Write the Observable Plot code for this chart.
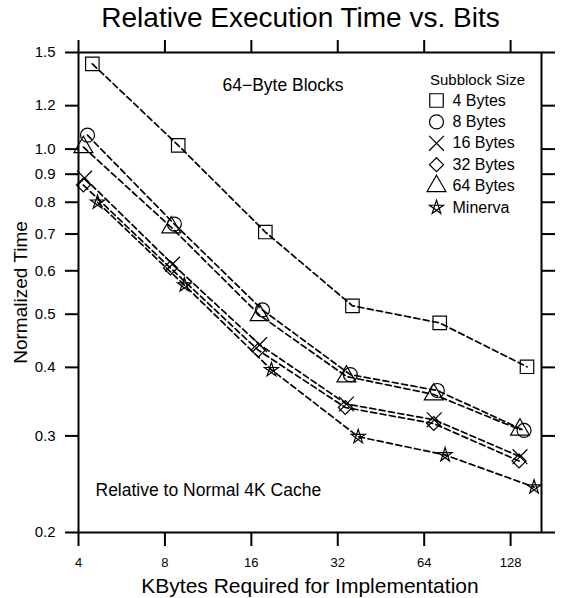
<!DOCTYPE html>
<html>
<head>
<meta charset="utf-8">
<script src="https://cdn.jsdelivr.net/npm/d3@7"></script>
<script src="https://cdn.jsdelivr.net/npm/@observablehq/plot@0.6"></script>
<style>
  body { margin: 0; background: #fff; font-family: "Liberation Sans", Arial, sans-serif; overflow: hidden; }
  #title { width: 571px; height: 40px; box-sizing: border-box; padding-left: 30px; text-align: center;
           font-size: 28px; line-height: 36px; color: #000; white-space: nowrap; }
</style>
</head>
<body>
<div id="title">Relative Execution Time vs. Bits</div>
<div id="chart"></div>
<script>
// Tick values for both log axes
const xTicks = [4, 8, 16, 32, 64, 128];
const yTicks = [0.2, 0.3, 0.4, 0.5, 0.6, 0.7, 0.8, 0.9, 1.0, 1.2, 1.5];

// Series names (subblock size)
const seriesNames = ["4 Bytes", "8 Bytes", "16 Bytes", "32 Bytes", "64 Bytes", "Minerva"];

// Implementation size in KBytes, per series
const kb4   = [4.47, 8.9, 17.9, 36.0, 72.5, 146];
const kb8   = [4.3, 8.63, 17.5, 35.4, 71.1, 142.6];
const kb16  = [4.2, 8.5, 17.1, 34.3, 69.4, 138];
const kb32  = [4.16, 8.36, 16.9, 34.0, 69.1, 137];
const kb64  = [4.16, 8.42, 17.1, 34.3, 69.1, 138];
const kbMin = [4.66, 9.35, 18.8, 37.7, 75.7, 154.5];

// Normalized execution time, per series
const t4   = [1.43, 1.016, 0.706, 0.518, 0.482, 0.401];
const t8   = [1.06, 0.73, 0.509, 0.388, 0.363, 0.307];
const t16  = [0.885, 0.617, 0.44, 0.343, 0.321, 0.275];
const t32  = [0.86, 0.607, 0.43, 0.338, 0.316, 0.27];
const t64  = [1.008, 0.72, 0.498, 0.385, 0.357, 0.308];
const tMin = [0.80, 0.565, 0.396, 0.299, 0.277, 0.242];

// Outlined five-pointed star drawn as a pentagram
const pentagram = {
  draw(context, size) {
    const R = Math.sqrt(size / Math.PI) * 1.05;
    for (let k = 0; k < 5; ++k) {
      const a = -Math.PI / 2 + (k * 4 * Math.PI) / 5;
      const px = R * Math.cos(a), py = R * Math.sin(a);
      if (k === 0) context.moveTo(px, py); else context.lineTo(px, py);
    }
    context.closePath();
  }
};

const xs = [kb4, kb8, kb16, kb32, kb64, kbMin];
const ys = [t4, t8, t16, t32, t64, tMin];
const symbols = ["square", "circle", "times", "diamond2", "triangle", pentagram];
const radii = [7.6, 7, 6.8, 6.3, 7, 7];

const series = seriesNames.map((name, i) =>
  xs[i].map((kb, j) => ({series: name, kb, time: ys[i][j]}))
);
const rows = series.flat();

const font = "Liberation Sans, Arial, sans-serif";
const label = (text, opts) => Plot.text([text], {textAnchor: "middle", lineAnchor: "middle", ...opts});

const marks = [
  Plot.line(rows, {x: "kb", y: "time", z: "series", stroke: "black", strokeWidth: 1.7, strokeDasharray: "6,3.5"}),
  ...series.map((data, i) =>
    Plot.dot(data, {x: "kb", y: "time", symbol: () => symbols[i], r: radii[i], stroke: "black", strokeWidth: 1.2, fill: "none"})
  ),
  Plot.frame({stroke: "black", strokeWidth: 2}),
  Plot.axisX({anchor: "bottom", ticks: xTicks, tickSize: 14, tickPadding: 11, strokeWidth: 2, fontSize: 13, tickFormat: d => String(d), label: null}),
  Plot.axisX({anchor: "top", ticks: xTicks, tickSize: 14, strokeWidth: 2, tickFormat: () => "", label: null}),
  Plot.axisY({anchor: "left", ticks: yTicks, tickSize: 13, tickPadding: 10, strokeWidth: 2, fontSize: 15, tickFormat: d => d.toFixed(1), label: null}),
  Plot.axisY({anchor: "right", ticks: yTicks, tickSize: 13, strokeWidth: 2, tickFormat: () => "", label: null}),
  label("KBytes Required for Implementation", {frameAnchor: "bottom", dy: 54, fontSize: 21}),
  label("Normalized Time", {frameAnchor: "left", dx: -58, rotate: -90, fontSize: 19}),
  label("64\u2212Byte Blocks", {frameAnchor: "top-left", dx: 144, dy: 33, textAnchor: "start", fontSize: 17.5}),
  label("Relative to Normal 4K Cache", {frameAnchor: "top-left", dx: 17, dy: 438, textAnchor: "start", fontSize: 17.5}),
  label("Subblock Size", {frameAnchor: "top-left", dx: 399, dy: 28, fontSize: 15}),
  ...seriesNames.flatMap((name, i) => [
    Plot.dot([name], {frameAnchor: "top-left", dx: 358, dy: 48 + 21.4 * i, symbol: () => symbols[i], r: radii[i], stroke: "black", strokeWidth: 1.2, fill: "none"}),
    label(name, {frameAnchor: "top-left", dx: 374, dy: 48 + 21.4 * i, textAnchor: "start", fontSize: 16})
  ])
];

const chart = Plot.plot({
  width: 571,
  height: 558,
  marginTop: 12,
  marginLeft: 78,
  marginRight: 30,
  marginBottom: 66,
  style: {fontFamily: font, background: "white", color: "black"},
  x: {type: "log", base: 2, domain: [4, 164]},
  y: {type: "log", domain: [0.2, 1.5]},
  marks
});
document.getElementById("chart").appendChild(chart);
</script>
</body>
</html>
